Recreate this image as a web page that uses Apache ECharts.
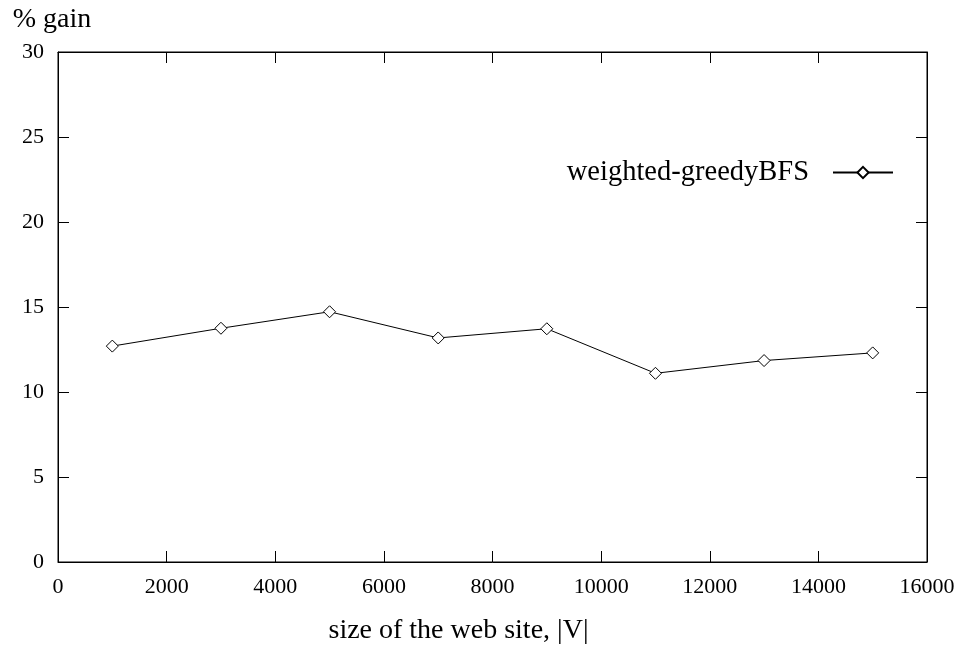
<!DOCTYPE html>
<html>
<head>
<meta charset="utf-8">
<script src="https://cdn.jsdelivr.net/npm/echarts@6/dist/echarts.min.js"></script>
<style>html,body{margin:0;padding:0;background:#fff}#c{width:962px;height:650px}</style>
</head>
<body>
<div id="c"></div>
<script>
var seriesName = 'weighted-greedyBFS';
var xValues = [1000, 3000, 5000, 7000, 9000, 11000, 13000, 15000];
var gainValues = [12.7, 13.75, 14.72, 13.18, 13.72, 11.1, 11.85, 12.3];
var xTitle = 'size of the web site, |V|';
var yTitle = '% gain';

var FONT = 'Liberation Serif';
var chart = echarts.init(document.getElementById('c'));
var data = xValues.map(function (x, i) { return [x, gainValues[i]]; });
var tickCommon = { show: true, inside: true, length: 11, lineStyle: { color: '#000', width: 1 } };
var lineCommon = { show: true, onZero: false, lineStyle: { color: '#000', width: 1 } };
var labelCommon = { color: '#000', fontFamily: FONT, fontSize: 22, formatter: function (v) { return String(v); } };
chart.setOption({
  animation: false,
  backgroundColor: '#fff',
  grid: { left: 58, width: 869, top: 52, height: 513, show: true, borderColor: '#000', borderWidth: 1, backgroundColor: 'transparent' },
  legend: {
    show: true,
    right: 63,
    top: 153,
    align: 'right',
    itemWidth: 60,
    itemHeight: 14,
    textStyle: { color: '#000', fontFamily: FONT, fontSize: 28.5, padding: [0, 19, 0, 0] },
    data: [{ name: seriesName }]
  },
  xAxis: [{
    type: 'value', min: 0, max: 16000, interval: 2000,
    axisLine: lineCommon,
    axisTick: tickCommon,
    axisLabel: Object.assign({ margin: 14 }, labelCommon),
    splitLine: { show: false },
    name: xTitle, nameLocation: 'middle', nameGap: 55,
    nameTextStyle: { color: '#000', fontFamily: FONT, fontSize: 28, align: 'center', padding: [0, 68, 0, 0] }
  }, {
    type: 'value', position: 'top', min: 0, max: 16000, interval: 2000,
    axisLine: lineCommon,
    axisTick: tickCommon, axisLabel: { show: false }, splitLine: { show: false }
  }],
  yAxis: [{
    type: 'value', min: 0, max: 30, interval: 5,
    axisLine: lineCommon,
    axisTick: tickCommon,
    axisLabel: Object.assign({ margin: 14 }, labelCommon),
    splitLine: { show: false },
    name: yTitle, nameLocation: 'end', nameGap: 18,
    nameTextStyle: { color: '#000', fontFamily: FONT, fontSize: 28, align: 'center', padding: [0, 12, 0, 0] }
  }, {
    type: 'value', position: 'right', min: 0, max: 30, interval: 5,
    axisLine: lineCommon,
    axisTick: tickCommon, axisLabel: { show: false }, splitLine: { show: false }
  }],
  series: [{
    name: seriesName,
    type: 'line',
    data: data,
    symbol: 'diamond',
    symbolSize: 12,
    showAllSymbol: true,
    lineStyle: { color: '#000', width: 1 },
    itemStyle: { color: '#fff', borderColor: '#000', borderWidth: 1 }
  }, {
    name: 'mirror',
    type: 'line',
    xAxisIndex: 1,
    yAxisIndex: 1,
    data: [],
    silent: true
  }]
});
</script>
</body>
</html>
